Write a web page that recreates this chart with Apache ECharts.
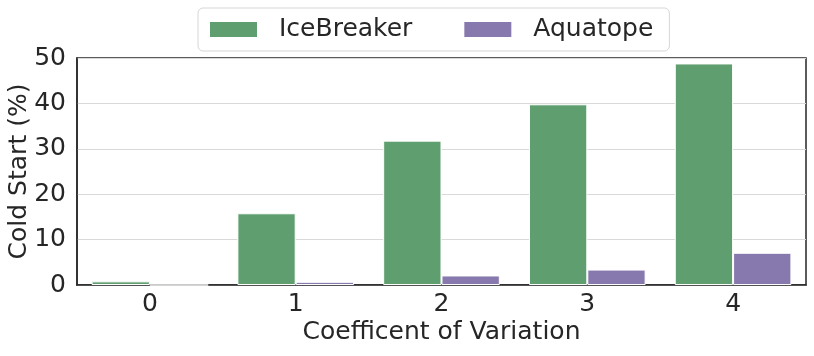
<!DOCTYPE html>
<html>
<head>
<meta charset="utf-8">
<script src="https://cdn.jsdelivr.net/npm/echarts@6/dist/echarts.min.js"></script>
<style>
  html, body { margin: 0; padding: 0; background: #fff; }
  #chart { width: 814px; height: 356px; }
</style>
</head>
<body>
<div id="chart"></div>
<script>
  // values
  const categories = ['0', '1', '2', '3', '4'];
  const iceBreaker = [0.8, 15.8, 31.8, 39.8, 48.8];
  const aquatope = [0, 0.7, 2.1, 3.4, 7.1];
  const yTicks = [0, 10, 20, 30, 40, 50];

  const font = 'DejaVu Sans';
  const chart = echarts.init(document.getElementById('chart'));

  const frame = { show: true, lineStyle: { color: '#262626', width: 1.5 } };

  chart.setOption({
    animation: false,
    backgroundColor: '#fff',
    legend: {
      left: 198,
      top: 8,
      padding: [9, 16, 9, 10],
      itemWidth: 49,
      itemHeight: 17,
      itemGap: 50,
      borderColor: '#d6d6d6',
      borderWidth: 1,
      borderRadius: 5,
      icon: 'rect',
      textStyle: {
        fontFamily: font,
        fontSize: 25,
        color: '#262626',
        padding: [0, 0, 0, 16]
      },
      data: ['IceBreaker', 'Aquatope']
    },
    grid: {
      left: 77,
      right: 8,
      top: 58,
      bottom: 71,
      outerBoundsMode: 'none',
      containLabel: false,
      show: true,
      borderColor: '#262626',
      borderWidth: 1.5
    },
    xAxis: {
      type: 'category',
      data: categories,
      name: 'Coefficent of Variation',
      nameLocation: 'middle',
      nameGap: 35,
      nameMoveOverlap: false,
      nameTextStyle: { fontFamily: font, fontSize: 25, color: '#262626' },
      axisLine: frame,
      axisTick: { show: false },
      axisLabel: { fontFamily: font, fontSize: 25, color: '#262626', margin: 7 }
    },
    yAxis: {
      type: 'value',
      min: yTicks[0],
      max: yTicks[yTicks.length - 1],
      interval: 10,
      name: 'Cold Start (%)',
      nameLocation: 'middle',
      nameGap: 45,
      nameMoveOverlap: false,
      nameTextStyle: { fontFamily: font, fontSize: 25, color: '#262626' },
      axisLine: frame,
      axisTick: { show: false },
      axisLabel: { fontFamily: font, fontSize: 25, color: '#262626', margin: 11 },
      splitLine: { lineStyle: { color: '#d9d9d9', width: 1.2 } }
    },
    series: [
      {
        name: 'IceBreaker',
        type: 'bar',
        data: iceBreaker,
        barGap: '0%',
        barCategoryGap: '20%',
        itemStyle: { color: '#5f9e6e', borderColor: '#fff', borderWidth: 1 }
      },
      {
        name: 'Aquatope',
        type: 'bar',
        data: aquatope,
        itemStyle: { color: '#8779ad', borderColor: '#fff', borderWidth: 1 }
      }
    ]
  });
</script>
</body>
</html>
